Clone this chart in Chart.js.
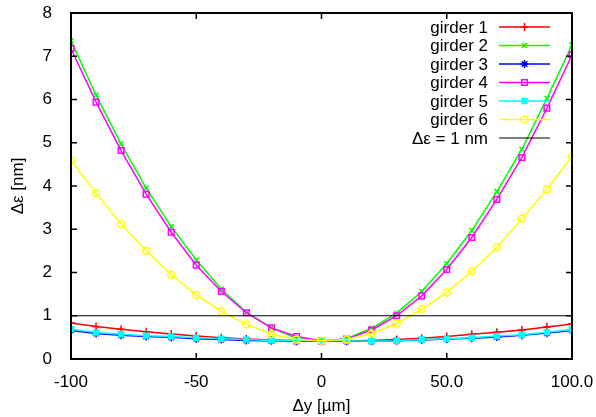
<!DOCTYPE html>
<html>
<head>
<meta charset="utf-8">
<script src="https://cdn.jsdelivr.net/npm/chart.js@4"></script>
<style>
  html, body { margin: 0; padding: 0; background: #fff; }
  #wrap { width: 596px; height: 417px; }
</style>
</head>
<body>
<div id="wrap"><canvas id="graf"></canvas></div>
<script>
// dados
const deslocamentos = [-100, -90, -80, -70, -60, -50, -40, -30, -20, -10, 0, 10, 20, 30, 40, 50, 60, 70, 80, 90, 100];
const girder1 = [0.83, 0.75, 0.69, 0.63, 0.58, 0.53, 0.49, 0.46, 0.44, 0.43, 0.42, 0.42, 0.43, 0.45, 0.48, 0.52, 0.57, 0.62, 0.67, 0.74, 0.81];
const girder2 = [7.36, 6.10, 4.97, 3.95, 3.06, 2.29, 1.62, 1.08, 0.72, 0.48, 0.40, 0.47, 0.71, 1.06, 1.56, 2.21, 2.97, 3.87, 4.85, 6.03, 7.26];
const girder3 = [0.66, 0.59, 0.55, 0.52, 0.50, 0.47, 0.45, 0.43, 0.42, 0.41, 0.41, 0.41, 0.41, 0.42, 0.44, 0.46, 0.48, 0.51, 0.55, 0.60, 0.66];
const girder4 = [7.18, 5.94, 4.82, 3.81, 2.93, 2.17, 1.56, 1.07, 0.72, 0.52, 0.42, 0.46, 0.67, 1.00, 1.46, 2.07, 2.81, 3.69, 4.66, 5.80, 7.03];
const girder5 = [0.69, 0.61, 0.57, 0.54, 0.52, 0.49, 0.47, 0.45, 0.43, 0.42, 0.42, 0.42, 0.41, 0.42, 0.45, 0.47, 0.49, 0.53, 0.56, 0.62, 0.68];
const girder6 = [4.59, 3.83, 3.12, 2.50, 1.95, 1.48, 1.10, 0.80, 0.58, 0.45, 0.42, 0.45, 0.59, 0.82, 1.15, 1.54, 2.03, 2.58, 3.25, 3.92, 4.69];
const limite = 1;
const ticksX = [-100, -50, 0, 50, 100];
const rotulosX = ['-100', '-50', '0', '50.0', '100.0'];
const ticksY = [0, 1, 2, 3, 4, 5, 6, 7, 8];

const fonte = '"Liberation Sans", Arial, sans-serif';
const pontos = arr => arr.map((v, i) => ({ x: deslocamentos[i], y: v }));

function serie(label, valores, cor, estilo, fill, raio, ordem) {
    return {
        label,
        data: pontos(valores),
        borderColor: cor,
        backgroundColor: fill ? cor : 'rgba(0,0,0,0)',
        borderWidth: 1.5,
        pointStyle: estilo,
        pointRadius: raio,
        pointBorderWidth: 1.5,
        pointBorderColor: cor,
        pointBackgroundColor: fill ? cor : 'rgba(0,0,0,0)',
        order: ordem
    };
}

const datasets = [
    serie('girder 1', girder1, '#ff0000', 'cross', false, 4, 7),
    serie('girder 2', girder2, '#00ff00', 'crossRot', false, 3.5, 6),
    serie('girder 3', girder3, '#0000ff', 'star', false, 4, 5),
    serie('girder 4', girder4, '#ff00ff', 'rect', false, 4, 4),
    serie('girder 5', girder5, '#00ffff', 'rect', true, 3.5, 3),
    serie('girder 6', girder6, '#ffff00', 'circle', false, 3.5, 2),
    {
        label: '\u0394\u03b5 = 1 nm',
        data: [{ x: -100, y: limite }, { x: 100, y: limite }],
        borderColor: '#000000',
        borderWidth: 1,
        pointRadius: 0,
        order: 1
    }
];

// moldura com ticks para dentro (estilo gnuplot) e legenda à direita
const molduraPlugin = {
    id: 'moldura',
    afterDraw(chart) {
        const { ctx, chartArea: a, scales } = chart;
        ctx.save();
        ctx.strokeStyle = '#000';
        ctx.lineWidth = 1.5;
        ctx.beginPath();
        ticksX.forEach(v => {
            const px = scales.x.getPixelForValue(v);
            ctx.moveTo(px, a.bottom); ctx.lineTo(px, a.bottom - 6);
            ctx.moveTo(px, a.top); ctx.lineTo(px, a.top + 6);
        });
        ticksY.forEach(v => {
            const py = scales.y.getPixelForValue(v);
            ctx.moveTo(a.left, py); ctx.lineTo(a.left + 6, py);
            ctx.moveTo(a.right, py); ctx.lineTo(a.right - 6, py);
        });
        ctx.stroke();
        ctx.lineWidth = 2;
        ctx.strokeRect(a.left, a.top, a.right - a.left, a.bottom - a.top);

        // legenda
        const xTexto = 488;
        const x0 = 499, x1 = 550;
        ctx.font = '17px ' + fonte;
        ctx.textAlign = 'right';
        ctx.textBaseline = 'middle';
        chart.data.datasets.forEach((ds, i) => {
            const y = 27 + i * 18.5;
            ctx.fillStyle = '#000';
            ctx.fillText(ds.label, xTexto, y + 1);
            ctx.strokeStyle = ds.borderColor;
            ctx.lineWidth = ds.borderWidth;
            ctx.beginPath();
            ctx.moveTo(x0, y); ctx.lineTo(x1, y);
            ctx.stroke();
            if (ds.pointRadius > 0) {
                ctx.fillStyle = ds.pointBackgroundColor;
                ctx.lineWidth = ds.pointBorderWidth;
                Chart.helpers.drawPoint(ctx, { pointStyle: ds.pointStyle, radius: ds.pointRadius, rotation: 0, borderWidth: ds.pointBorderWidth }, (x0 + x1) / 2, y);
            }
        });
        ctx.restore();
    }
};

new Chart(document.getElementById('graf').getContext('2d'), {
    type: 'line',
    data: { datasets },
    options: {
        responsive: true,
        maintainAspectRatio: false,
        animation: false,
        layout: { padding: { top: 13, right: 24, left: 0, bottom: 0 } },
        plugins: { legend: { display: false }, tooltip: { enabled: false } },
        scales: {
            x: {
                type: 'linear',
                min: -100, max: 100,
                grid: { display: false },
                border: { display: false },
                afterBuildTicks: s => { s.ticks = ticksX.map(v => ({ value: v })); },
                afterFit: s => { s.height = 58; s.paddingLeft = 0; s.paddingRight = 0; },
                ticks: {
                    color: '#000', font: { family: fonte, size: 17 }, padding: 5, maxRotation: 0,
                    callback: v => rotulosX[ticksX.indexOf(v)]
                },
                title: { display: true, text: '\u0394y [\u00b5m]', color: '#000', font: { family: fonte, size: 17 }, padding: { top: 8, bottom: 0 } }
            },
            y: {
                min: 0, max: 8,
                grid: { display: false },
                border: { display: false },
                afterBuildTicks: s => { s.ticks = ticksY.map(v => ({ value: v })); },
                afterFit: s => { s.width = 71; s.paddingTop = 0; s.paddingBottom = 0; },
                ticks: { color: '#000', font: { family: fonte, size: 17 }, padding: 11 },
                title: { display: true, text: '\u0394\u03b5 [nm]', color: '#000', font: { family: fonte, size: 17 }, padding: { top: 8, bottom: 0 } }
            }
        }
    },
    plugins: [molduraPlugin]
});
</script>
</body>
</html>
